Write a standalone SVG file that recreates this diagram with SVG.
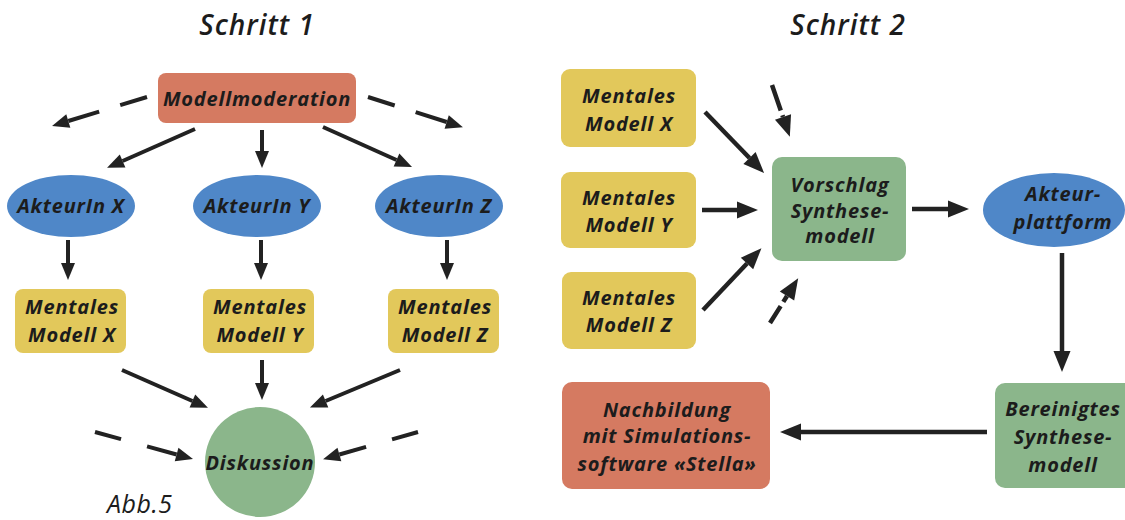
<svg xmlns="http://www.w3.org/2000/svg" width="1125" height="520" viewBox="0 0 1125 520">
<style>
text{font-family:"Open Sans","Noto Sans","Liberation Sans",sans-serif;font-style:italic;font-weight:700;fill:#1c1c1c;text-anchor:middle;letter-spacing:0.8px}
.t{font-size:20px}
.h{font-size:28px;letter-spacing:1px;font-weight:600}
.abb{font-size:25px;font-weight:400;text-anchor:start;letter-spacing:0.5px}
.red{fill:#d57a61}
.blue{fill:#4f87c8}
.yel{fill:#e2c85b}
.grn{fill:#8bb68b}
.c{stroke:#222;stroke-width:4;fill:none}
.c2{stroke:#222;stroke-width:4.5;fill:none}
</style>
<defs>
<marker id="a" markerUnits="userSpaceOnUse" markerWidth="18" markerHeight="16" refX="0" refY="7" orient="auto" overflow="visible">
<path d="M0,0 L17,7 L0,14 z" fill="#222"/>
</marker>
<marker id="b" markerUnits="userSpaceOnUse" markerWidth="22" markerHeight="18" refX="0" refY="8.5" orient="auto" overflow="visible">
<path d="M0,0 L21,8.5 L0,17 z" fill="#222"/>
</marker>
</defs>

<text class="h" x="257" y="35">Schritt 1</text>
<text class="h" x="848" y="35">Schritt 2</text>
<text class="abb" x="107" y="513">Abb.5</text>

<g id="connectors">
<!-- Schritt 1 -->
<line class="c" x1="147" y1="97" x2="68.3" y2="121" stroke-dasharray="28 22 40" marker-end="url(#a)"/>
<line class="c" x1="368" y1="97" x2="446.7" y2="122" stroke-dasharray="28 22 40" marker-end="url(#a)"/>
<line class="c" x1="195" y1="129" x2="122.6" y2="161" marker-end="url(#a)"/>
<line class="c" x1="262" y1="130" x2="262" y2="151" marker-end="url(#a)"/>
<line class="c" x1="323" y1="127" x2="396.5" y2="160" marker-end="url(#a)"/>
<line class="c" x1="68" y1="240" x2="68" y2="263" marker-end="url(#a)"/>
<line class="c" x1="261" y1="240" x2="261" y2="263" marker-end="url(#a)"/>
<line class="c" x1="447" y1="240" x2="447" y2="263" marker-end="url(#a)"/>
<line class="c" x1="122" y1="370" x2="192.4" y2="401" marker-end="url(#a)"/>
<line class="c" x1="262" y1="360" x2="262" y2="383" marker-end="url(#a)"/>
<line class="c" x1="400" y1="370" x2="325.6" y2="401" marker-end="url(#a)"/>
<line class="c" x1="95" y1="432" x2="176.6" y2="454.5" stroke-dasharray="27 27 40" marker-end="url(#a)"/>
<line class="c" x1="418" y1="432" x2="339.4" y2="454.5" stroke-dasharray="27 27 40" marker-end="url(#a)"/>
<!-- Schritt 2 -->
<line class="c2" x1="705" y1="112" x2="749.5" y2="158" marker-end="url(#b)"/>
<line class="c2" x1="702" y1="210" x2="737" y2="210" marker-end="url(#b)"/>
<line class="c2" x1="703" y1="310" x2="747" y2="263.5" marker-end="url(#b)"/>
<line class="c2" x1="772" y1="85" x2="783" y2="117" stroke-dasharray="27 5 40" marker-end="url(#b)"/>
<line class="c2" x1="770" y1="323" x2="787" y2="296" stroke-dasharray="20 5 40" marker-end="url(#b)"/>
<line class="c2" x1="912" y1="209" x2="948" y2="209" marker-end="url(#b)"/>
<line class="c2" x1="1062" y1="253" x2="1062" y2="351" marker-end="url(#b)"/>
<line class="c2" x1="987" y1="432" x2="801" y2="432" marker-end="url(#b)"/>
</g>

<g id="modellmoderation">
<rect class="red" x="158" y="73" width="198" height="50" rx="8"/>
<text class="t" x="257" y="106">Modellmoderation</text>
</g>
<g id="akteurin-x">
<ellipse class="blue" cx="71" cy="206" rx="64" ry="31"/>
<text class="t" x="71" y="213">AkteurIn X</text>
</g>
<g id="akteurin-y">
<ellipse class="blue" cx="257" cy="206" rx="64" ry="31"/>
<text class="t" x="257" y="213">AkteurIn Y</text>
</g>
<g id="akteurin-z">
<ellipse class="blue" cx="439" cy="206" rx="64" ry="31"/>
<text class="t" x="439" y="213">AkteurIn Z</text>
</g>
<g id="mm1-x">
<rect class="yel" x="15" y="289" width="111" height="64" rx="8"/>
<text class="t" x="72" y="314">Mentales</text>
<text class="t" x="72" y="342">Modell X</text>
</g>
<g id="mm1-y">
<rect class="yel" x="203" y="289" width="111" height="64" rx="8"/>
<text class="t" x="260" y="314">Mentales</text>
<text class="t" x="260" y="342">Modell Y</text>
</g>
<g id="mm1-z">
<rect class="yel" x="388" y="289" width="111" height="64" rx="8"/>
<text class="t" x="445" y="314">Mentales</text>
<text class="t" x="445" y="342">Modell Z</text>
</g>
<g id="diskussion">
<circle class="grn" cx="260" cy="462" r="55"/>
<text class="t" x="260" y="470">Diskussion</text>
</g>

<g id="mm2-x">
<rect class="yel" x="561" y="69" width="135" height="78" rx="9"/>
<text class="t" x="629" y="103">Mentales</text>
<text class="t" x="629" y="131">Modell X</text>
</g>
<g id="mm2-y">
<rect class="yel" x="561" y="172" width="135" height="76" rx="9"/>
<text class="t" x="629" y="205">Mentales</text>
<text class="t" x="629" y="232">Modell Y</text>
</g>
<g id="mm2-z">
<rect class="yel" x="562" y="272" width="134" height="77" rx="9"/>
<text class="t" x="629" y="305">Mentales</text>
<text class="t" x="629" y="332">Modell Z</text>
</g>
<g id="vorschlag">
<rect class="grn" x="772" y="157" width="134" height="104" rx="10"/>
<text class="t" x="840" y="192">Vorschlag</text>
<text class="t" x="840" y="218">Synthese-</text>
<text class="t" x="840" y="243">modell</text>
</g>
<g id="akteurplattform">
<ellipse class="blue" cx="1054" cy="210" rx="71" ry="37"/>
<text class="t" x="1063" y="201">Akteur-</text>
<text class="t" x="1063" y="229">plattform</text>
</g>
<g id="bereinigtes">
<rect class="grn" x="995" y="383" width="140" height="105" rx="10"/>
<text class="t" x="1063" y="416">Bereinigtes</text>
<text class="t" x="1063" y="444">Synthese-</text>
<text class="t" x="1063" y="472">modell</text>
</g>
<g id="nachbildung">
<rect class="red" x="562" y="382" width="208" height="107" rx="10"/>
<text class="t" x="667" y="417">Nachbildung</text>
<text class="t" x="667" y="443">mit Simulations-</text>
<text class="t" x="667" y="471">software «Stella»</text>
</g>
</svg>
